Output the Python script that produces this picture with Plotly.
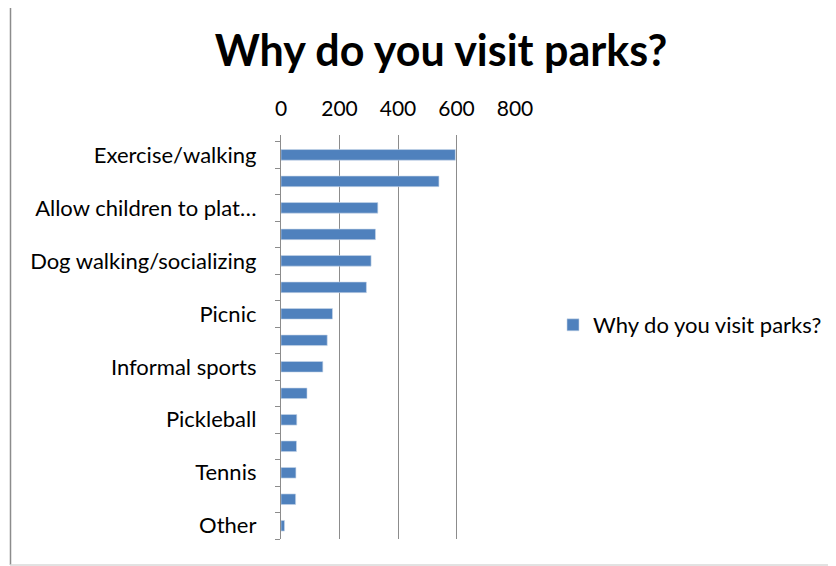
import plotly.graph_objects as go

categories = [
    "Exercise/walking", "Category 2", "Allow children to play", "Category 4",
    "Dog walking/socializing", "Category 6", "Picnic", "Category 8",
    "Informal sports", "Category 10", "Pickleball", "Category 12",
    "Tennis", "Category 14", "Other",
]
tick_labels = [
    "Exercise/walking", "", "Allow children to plat…", "",
    "Dog walking/socializing", "", "Picnic", "",
    "Informal sports", "", "Pickleball", "",
    "Tennis", "", "Other",
]
values = [596, 540, 331, 323, 308, 292, 176, 158, 143, 89, 54, 53, 51, 50, 12]
series_name = "Why do you visit parks?"
x_ticks = [0, 200, 400, 600, 800]

FONT = "Lato"
W, H = 836, 566
OFF = 8  # page body margin offset
# plot area in screen pixels
SL, SR, ST, SB = 281, 515, 135, 539
L, R, T, B = SL - OFF, SR - OFF, ST - OFF, SB - OFF
pw, ph = R - L, B - T

fig = go.Figure(go.Bar(
    x=values, y=categories, orientation="h", name=series_name,
    marker=dict(color="#4F81BD", line=dict(color="#c9d7ea", width=0.6)),
    showlegend=True,
))

def px_x(p):  # screen px -> paper
    return (p - SL) / pw

def px_y(p):
    return (SB - p) / ph

n = len(categories)
fig.update_layout(
    width=W, height=H,
    margin=dict(l=L, r=W - R, t=T, b=H - B, pad=0, autoexpand=False),
    paper_bgcolor="white", plot_bgcolor="white",
    font=dict(family=FONT, size=22, color="black"),
    title=dict(text="<b>Why do you visit parks?</b>", x=px_x(441), xref="paper",
               xanchor="center", y=1 - 43 / H, yanchor="middle",
               font=dict(family=FONT, size=43, color="black")),
    bargap=0.6,
    showlegend=True,
    legend=dict(x=px_x(553), xanchor="left", y=px_y(325), yanchor="middle",
                font=dict(family=FONT, size=22, color="black"),
                bgcolor="rgba(0,0,0,0)", itemwidth=30),
    xaxis=dict(side="top", range=[0, 800], tickvals=x_ticks,
               ticktext=[str(v) for v in x_ticks], automargin=False,
               showgrid=True, gridcolor="#8c8c8c", gridwidth=1.3,
               zeroline=False, showline=False, ticks="",
               ticklabelstandoff=14,
               tickfont=dict(family=FONT, size=21, color="black")),
    yaxis=dict(type="category", categoryorder="array", categoryarray=categories,
               range=[n - 0.5, -0.75], tickvals=categories, ticktext=tick_labels,
               tickson="boundaries", ticks="outside", ticklen=5,
               tickcolor="#8c8c8c", tickwidth=1.3, automargin=False,
               showline=True, linecolor="#8c8c8c", linewidth=1.3,
               showgrid=False, zeroline=False,
               ticklabelstandoff=19,
               tickfont=dict(family=FONT, size=22, color="black")),
    shapes=[
        dict(type="line", xref="paper", yref="paper", x0=px_x(10), x1=px_x(840),
             y0=px_y(4.5), y1=px_y(4.5), line=dict(color="#8c8c8c", width=1.5)),
        dict(type="line", xref="paper", yref="paper", x0=px_x(10.5), x1=px_x(10.5),
             y0=px_y(4.5), y1=px_y(565), line=dict(color="#8c8c8c", width=1.5)),
        dict(type="line", xref="paper", yref="paper", x0=px_x(10), x1=px_x(840),
             y0=px_y(565), y1=px_y(565), line=dict(color="#d9d9d9", width=1.5)),
    ],
)

fig.write_html("out.html")
